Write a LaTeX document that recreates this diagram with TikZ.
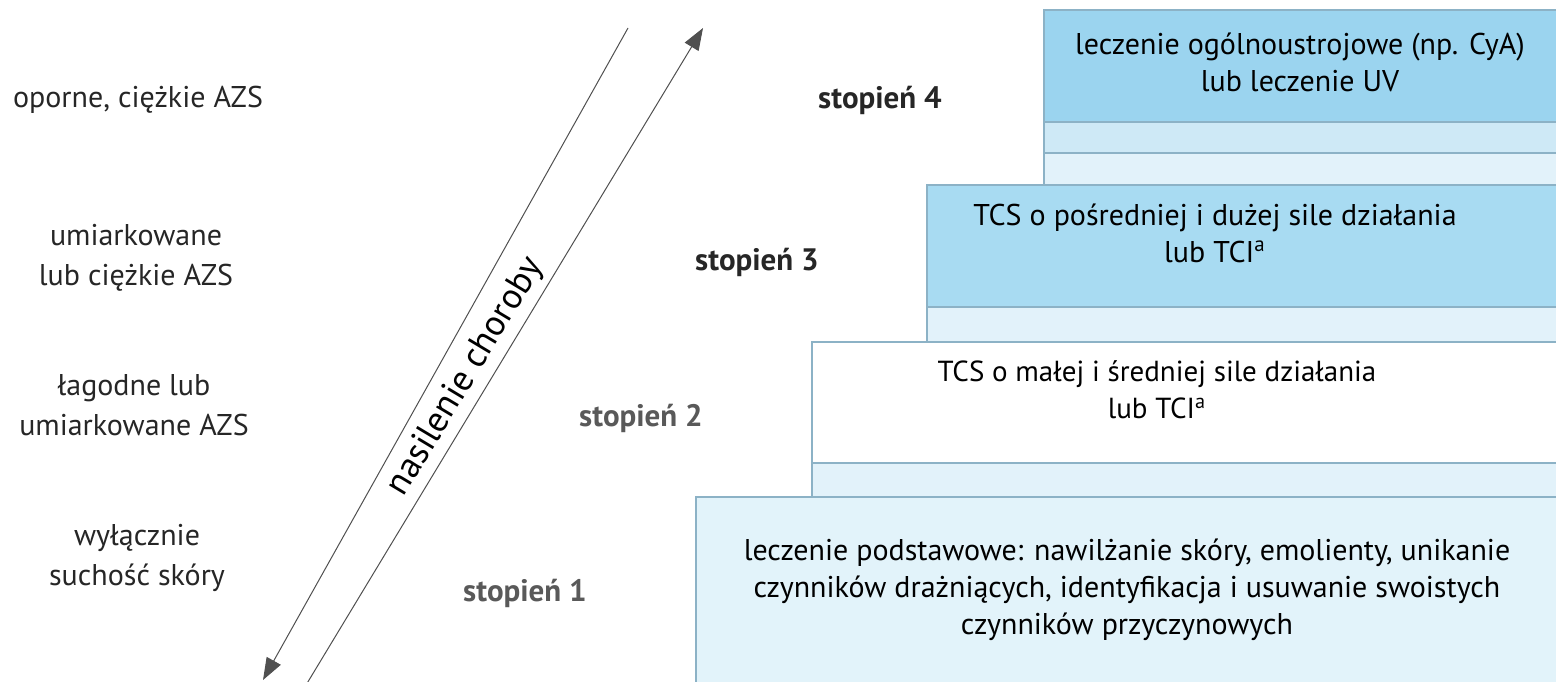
\documentclass[tikz,border=0pt]{standalone}
\usepackage{fontspec}
\setmainfont{PT Sans}
\usetikzlibrary{arrows.meta}

\definecolor{stepblue}{RGB}{155,212,239}
\definecolor{stepblueB}{RGB}{168,219,242}
\definecolor{striplight}{RGB}{206,233,246}
\definecolor{stripfaint}{RGB}{226,242,250}
\definecolor{baselight}{RGB}{226,243,250}
\definecolor{edgeblue}{RGB}{140,178,198}
\definecolor{arrowgrey}{RGB}{80,80,80}

\tikzset{
  sidelbl/.style={align=center, font=\fontsize{15}{20}\selectfont, text=black!85},
  stepname/.style={font=\fontsize{15.5}{20}\selectfont\bfseries, text=black!85},
  boxtxt/.style={align=center, font=\fontsize{15}{18.5}\selectfont},
  boxedge/.style={draw=edgeblue, line width=0.6pt},
  sevline/.style={draw=arrowgrey, line width=0.5pt, -{Triangle[length=11pt,width=8pt]}}
}

\begin{document}
\begin{tikzpicture}[x=0.5pt,y=-0.5pt]
\useasboundingbox (0,0) rectangle (1556,681);
\clip (0,0) rectangle (1556,681);

% schody leczenia
\path[boxedge, fill=stripfaint] (1044,10) rectangle (1600,185);
\path[boxedge, fill=striplight] (1044,122) rectangle (1600,153);
\path[boxedge, fill=stepblue] (1044,10) rectangle (1600,122);
\path[boxedge, fill=stripfaint] (927,185) rectangle (1600,342);
\path[boxedge, fill=stepblueB] (927,185) rectangle (1600,307);
\path[boxedge, fill=stripfaint] (812,342) rectangle (1600,497);
\path[boxedge, fill=white] (812,342) rectangle (1600,463);
\path[boxedge, fill=baselight] (696,497) rectangle (1600,720);

\node[boxtxt] (lecz4) at (1300,62) {leczenie ogólnoustrojowe (np. CyA)\\lub leczenie UV};
\node[boxtxt] (lecz3) at (1215,233) {TCS o pośredniej i dużej sile działania\\lub TCI\textsuperscript{a}};
\node[boxtxt, font=\fontsize{14.5}{18.5}\selectfont] (lecz2) at (1157,390) {TCS o małej i średniej sile działania\\lub TCI\textsuperscript{a}};
\node[boxtxt] (lecz1) at (1127,590) {leczenie podstawowe: nawilżanie skóry, emolienty, unikanie\\czynników drażniących, identyfikacja i usuwanie swoistych\\czynników przyczynowych};

% stopnie
\node[stepname] (st4) at (880,100) {stopień 4};
\node[stepname] (st3) at (757,262) {stopień 3};
\node[stepname, text=black!65] (st2) at (641,418) {stopień 2};
\node[stepname, text=black!65] (st1) at (525,593) {stopień 1};

% nasilenie AZS
\node[sidelbl] (azs4) at (138,100) {oporne, ciężkie AZS};
\node[sidelbl] (azs3) at (136,258) {umiarkowane\\lub ciężkie AZS};
\node[sidelbl] (azs2) at (134,405) {łagodne lub\\umiarkowane AZS};
\node[sidelbl] (azs1) at (137,558) {wyłącznie\\suchość skóry};

% strzalki
\coordinate (downtop) at (628,28);
\coordinate (downend) at (263,680);
\coordinate (upstart) at (303,690);
\coordinate (upend) at (703,28);
\draw[sevline] (downtop) -- (downend);
\draw[sevline] (upstart) -- (upend);
\node[font=\fontsize{18}{20}\selectfont, rotate=59] (nasil) at (466,377) {nasilenie choroby};
\end{tikzpicture}
\end{document}
